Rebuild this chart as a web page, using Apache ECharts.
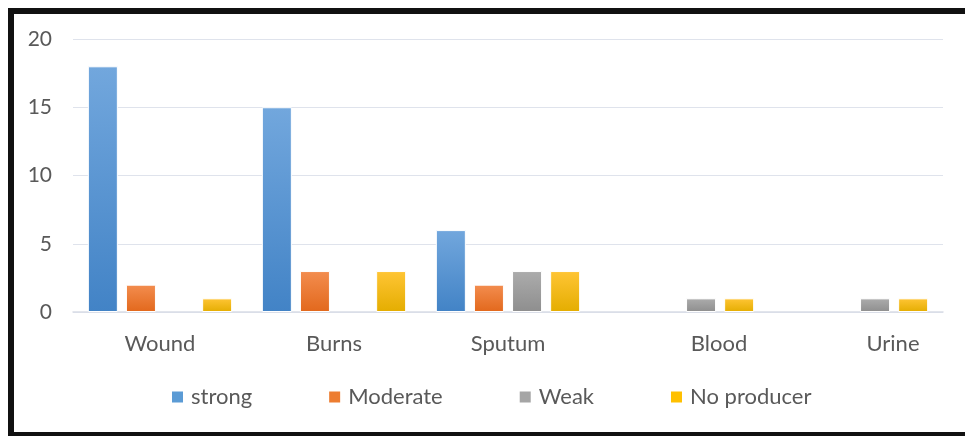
<!DOCTYPE html>
<html>
<head>
<meta charset="utf-8">
<script src="https://cdn.jsdelivr.net/npm/echarts@6/dist/echarts.min.js"></script>
<style>
  html, body { margin: 0; padding: 0; background: #fff; }
  #chart { width: 965px; height: 436px; position: absolute; left: 0; top: 0; }
  #frame { position: absolute; left: 8px; top: 8px; width: 1000px; height: 418px;
           border-left: 6px solid #111; border-top: 6px solid #111; border-bottom: 6px solid #111;
           box-sizing: content-box; pointer-events: none; }
</style>
</head>
<body>
<div id="chart"></div>
<div id="frame"></div>
<script>
const categories = ['Wound', 'Burns', 'Sputum', 'Blood', 'Urine'];
const seriesNames = ['strong', 'Moderate', 'Weak', 'No producer'];
const strongVals = [18, 15, 6, null, null];
const moderateVals = [2, 3, 2, null, null];
const weakVals = [null, null, 3, 1, 1];
const noProducerVals = [1, 3, 3, 1, 1];
const yTicks = [0, 5, 10, 15, 20];

const colorStops = [
  ['#72a7dd', '#4283c6'],
  ['#f38d4f', '#e2681c'],
  ['#acacac', '#8e8e8e'],
  ['#ffc535', '#e4ad00']
];
const legendColors = ['#5b9bd5', '#ed7d31', '#a5a5a5', '#ffc000'];
const allVals = [strongVals, moderateVals, weakVals, noProducerVals];

const font = 'Lato, "Open Sans", sans-serif';
const txt = '#595959';

const chart = echarts.init(document.getElementById('chart'));
chart.setOption({
  animation: false,
  color: legendColors,
  grid: { left: 73, right: 22, top: 39, bottom: 124 },
  legend: {
    top: 381,
    left: 165,
    itemWidth: 13, itemHeight: 13, itemGap: 75,
    icon: 'rect',
    textStyle: { fontFamily: font, fontSize: 22, color: txt, padding: [0, 0, 0, 2] },
    data: seriesNames.map((n, i) => ({ name: n, itemStyle: { color: legendColors[i] } }))
  },
  xAxis: {
    type: 'category',
    data: categories,
    axisLine: { lineStyle: { color: '#d9dde6', width: 1.5 } },
    axisTick: { show: false },
    axisLabel: {
      margin: 21,
      fontFamily: font, fontSize: 22, color: txt,
      formatter: function (v) {
        if (v === 'Blood' || v === 'Urine') return '{s|' + v + '}';
        return v;
      },
      rich: { s: { fontFamily: font, fontSize: 22, color: txt, padding: [0, 0, 0, 74] } }
    }
  },
  yAxis: {
    type: 'value',
    min: yTicks[0], max: yTicks[yTicks.length - 1], interval: 5,
    axisLine: { show: false },
    axisTick: { show: false },
    splitLine: { lineStyle: { color: '#dfe3ec', width: 1.2 } },
    axisLabel: { margin: 21, fontFamily: font, fontSize: 21, color: txt }
  },
  series: seriesNames.map((n, i) => ({
    name: n,
    type: 'bar',
    data: allVals[i],
    barWidth: 30,
    barGap: '27%',
    itemStyle: {
      borderColor: '#ffffff', borderWidth: 1,
      color: new echarts.graphic.LinearGradient(0, 0, 0, 1, [
        { offset: 0, color: colorStops[i][0] },
        { offset: 1, color: colorStops[i][1] }
      ])
    }
  }))
});
</script>
</body>
</html>
